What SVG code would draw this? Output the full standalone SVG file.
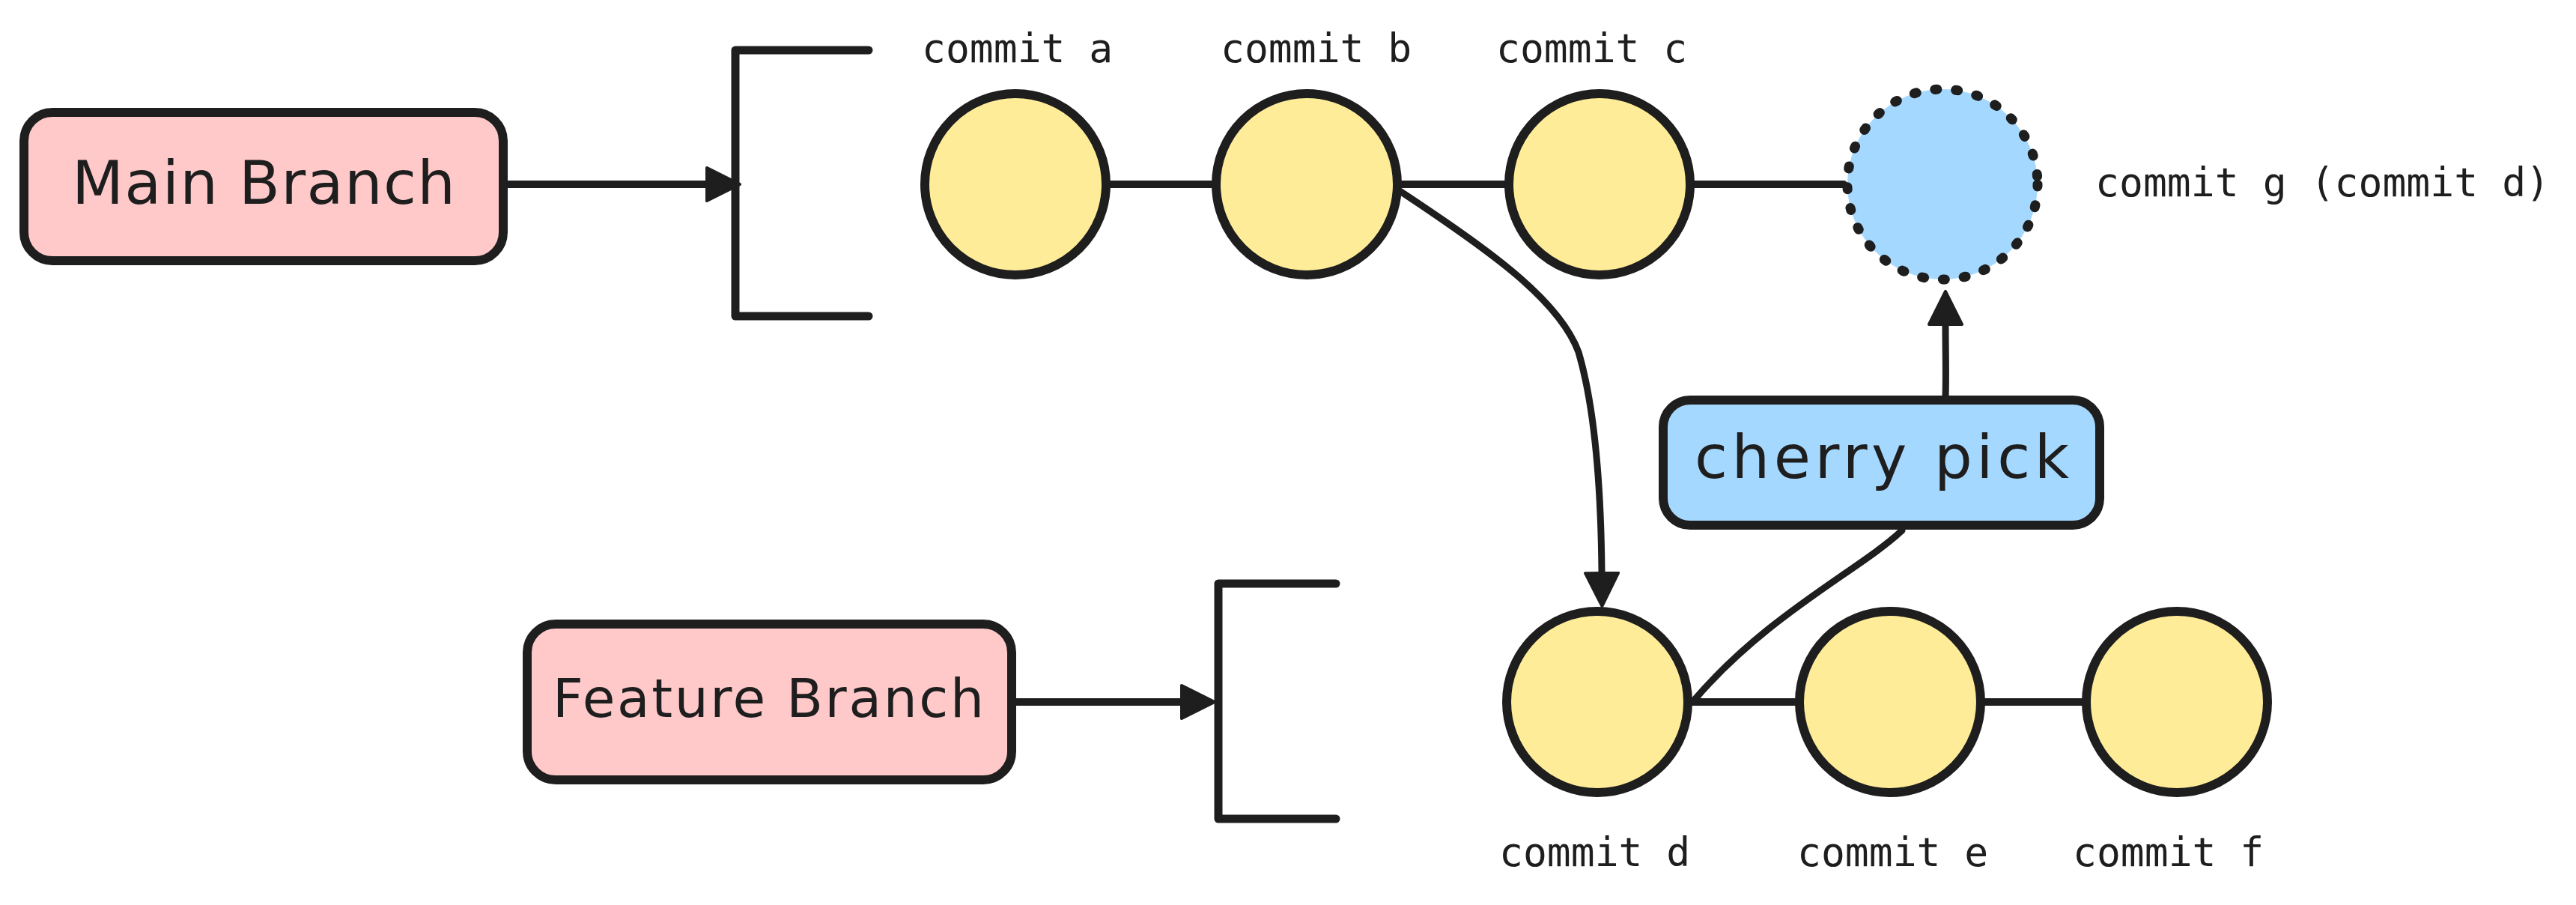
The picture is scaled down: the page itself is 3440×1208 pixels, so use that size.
<svg xmlns="http://www.w3.org/2000/svg" width="3440" height="1208" viewBox="0 0 3440 1208">
<style>
.bg{fill:#ffffff}
.box{stroke:#1e1e1e;stroke-width:12;stroke-linejoin:round}
.pink{fill:#ffc9c9}
.blue{fill:#a5d8ff}
.commit{fill:#ffec99;stroke:#1e1e1e;stroke-width:12}
.dotted{fill:#a5d8ff;stroke:#1e1e1e;stroke-width:13;stroke-dasharray:3 25;stroke-linecap:round}
.hand{font-family:"DejaVu Sans","Liberation Sans",sans-serif;fill:#1e1e1e;text-anchor:middle}
.mono{font-family:"DejaVu Sans Mono","Liberation Mono",monospace;font-size:53px;fill:#1e1e1e}
.link{fill:none;stroke:#1e1e1e;stroke-width:10;stroke-linecap:round}
.thin{fill:none;stroke:#1e1e1e;stroke-width:9;stroke-linecap:round}
.bracket{fill:none;stroke:#1e1e1e;stroke-width:11;stroke-linecap:round;stroke-linejoin:round}
</style>
<defs>
<marker id="arrow" viewBox="0 0 48 48" refX="1" refY="24" markerWidth="48" markerHeight="48" markerUnits="userSpaceOnUse" orient="auto">
<path d="M2 2 L46 24 L2 46 Z" fill="#1e1e1e" stroke="#1e1e1e" stroke-width="4" stroke-linejoin="round"/>
</marker>
</defs>
<rect class="bg" x="0" y="0" width="3440" height="1208"/>

<g id="connectors">
<path id="main-arrow" class="link" d="M677 246 L943 246" marker-end="url(#arrow)"/>
<path id="feature-arrow" class="link" d="M1357 937 L1577 937" marker-end="url(#arrow)"/>
<path id="a-b" class="link" d="M1480 246 L1620 246"/>
<path id="b-c" class="link" d="M1870 246 L2011 246"/>
<path id="c-g" class="link" d="M2261 246 L2462 246"/>
<path id="d-e" class="link" d="M2258 937 L2399 937"/>
<path id="e-f" class="link" d="M2649 937 L2782 937"/>
<path id="b-d" class="thin" d="M1871 256 C1990 335, 2082 400, 2108 470 C2130 545, 2138 650, 2139 764" marker-end="url(#arrow)"/>
<path id="pick-g" class="thin" d="M2598 530 C2599 500, 2598 470, 2598 434" marker-end="url(#arrow)"/>
<path id="d-pick" class="thin" d="M2262 935 C2360 820, 2485 760, 2540 708"/>
</g>

<g id="main-branch">
<rect class="box pink" x="32" y="150" width="640" height="198" rx="38"/>
<text class="hand" x="352" y="272" font-size="80" textLength="512" lengthAdjust="spacing">Main Branch</text>
</g>
<g id="main-bracket">
<path class="bracket" d="M1160 67 L982 67 L982 422 L1160 422"/>
</g>

<g id="feature-branch">
<rect class="box pink" x="704" y="833" width="647" height="208" rx="38"/>
<text class="hand" x="1026" y="957" font-size="71" textLength="576" lengthAdjust="spacing">Feature Branch</text>
</g>
<g id="feature-bracket">
<path class="bracket" d="M1784 779 L1627 779 L1627 1093 L1784 1093"/>
</g>

<g id="commit-a">
<circle class="commit" cx="1356" cy="246" r="121"/>
<text class="mono" x="1231" y="83">commit a</text>
</g>
<g id="commit-b">
<circle class="commit" cx="1745" cy="246" r="121"/>
<text class="mono" x="1630" y="83">commit b</text>
</g>
<g id="commit-c">
<circle class="commit" cx="2136" cy="246" r="121"/>
<text class="mono" x="1998" y="83">commit c</text>
</g>
<g id="commit-g">
<circle class="dotted" cx="2594" cy="246" r="127"/>
<text class="mono" x="2798" y="262" textLength="607" lengthAdjust="spacing">commit g (commit d)</text>
</g>

<g id="cherry-pick">
<rect class="box blue" x="2221" y="534" width="583" height="167" rx="36"/>
<text class="hand" x="2513" y="638" font-size="80" textLength="500" lengthAdjust="spacing">cherry pick</text>
</g>

<g id="commit-d">
<circle class="commit" cx="2133" cy="937" r="121"/>
<text class="mono" x="2002" y="1156">commit d</text>
</g>
<g id="commit-e">
<circle class="commit" cx="2524" cy="937" r="121"/>
<text class="mono" x="2400" y="1156">commit e</text>
</g>
<g id="commit-f">
<circle class="commit" cx="2907" cy="937" r="121"/>
<text class="mono" x="2768" y="1156">commit f</text>
</g>
</svg>
